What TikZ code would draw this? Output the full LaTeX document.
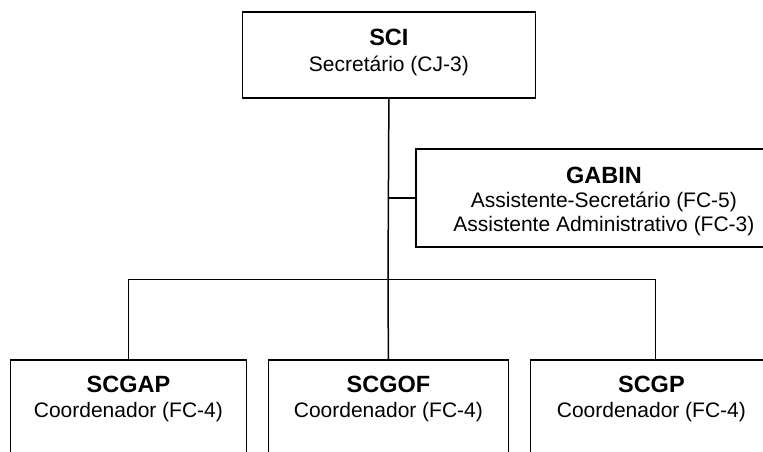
\documentclass[tikz,border=0pt]{standalone}
\usepackage{fontspec}
\setmainfont{Liberation Sans}
\begin{document}
\begin{tikzpicture}[x=1pt,y=-1pt,
  box/.style={draw, line width=1.8pt, inner sep=0pt, anchor=north west},
  ttl/.style={font=\fontsize{23.5}{28}\selectfont\bfseries, inner sep=0pt, anchor=base},
  sub/.style={font=\fontsize{21}{25}\selectfont, inner sep=0pt, anchor=base},
  conn/.style={line width=1.5pt}]
\useasboundingbox (0,0) rectangle (763,452);
\fill[white] (0,0) rectangle (763,452);
\clip (0,0) rectangle (763,452);
% boxes
\node[box, minimum width=293pt, minimum height=85.7pt] (sci) at (241.5,11) {};
\node[box, minimum width=376pt, minimum height=97.4pt] (gabin) at (415,148.3) {};
\node[box, minimum width=236pt, minimum height=130pt] (scgap) at (9.5,359.3) {};
\node[box, minimum width=240pt, minimum height=130pt] (scgof) at (267.5,359.3) {};
\node[box, minimum width=250pt, minimum height=130pt] (scgp) at (529.5,359.3) {};
% texts
\node[ttl] (sciT) at ([yshift=-35pt]sci.north) {SCI};
\node[sub] (sciS) at ([yshift=-60pt]sci.north) {Secretário (CJ-3)};
\node[ttl] (gabT) at ([yshift=-35pt]gabin.north) {GABIN};
\node[sub] (gabS) at ([yshift=-59pt]gabin.north) {Assistente-Secretário (FC-5)};
\node[sub] (gabA) at ([yshift=-83pt]gabin.north) {Assistente Administrativo (FC-3)};
\node[ttl] (apT) at ([yshift=-33.5pt]scgap.north) {SCGAP};
\node[sub] (apS) at ([yshift=-58pt]scgap.north) {Coordenador (FC-4)};
\node[ttl] (ofT) at ([yshift=-33.5pt]scgof.north) {SCGOF};
\node[sub] (ofS) at ([yshift=-58pt]scgof.north) {Coordenador (FC-4)};
\node[ttl] (gpT) at ([xshift=-4pt,yshift=-33.5pt]scgp.north) {SCGP};
\node[sub] (gpS) at ([xshift=-4pt,yshift=-58pt]scgp.north) {Coordenador (FC-4)};
% connectors
\coordinate (hub) at (388,279.3);
\draw[conn] (sci.south) -- (hub);
\draw[conn] (gabin.west) -- (gabin.west -| sci.south);
\draw[conn] (scgap.north) -- (scgap.north |- hub) -- (scgp.north |- hub) -- (scgp.north);
\draw[conn] (hub) -- (scgof.north);
\end{tikzpicture}
\end{document}
